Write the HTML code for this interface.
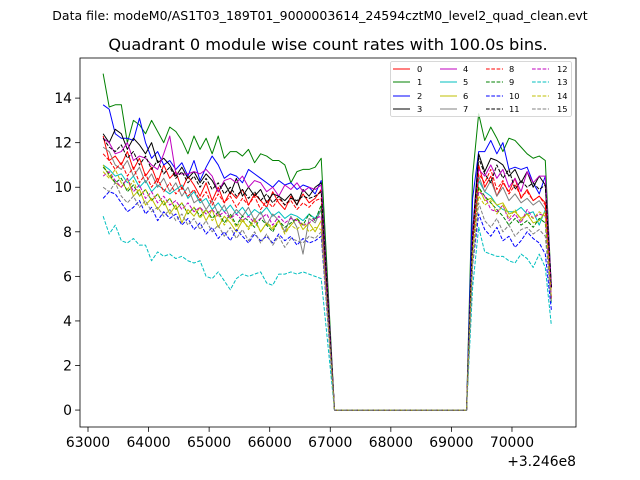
<!DOCTYPE html>
<html><head><meta charset="utf-8"><style>
body{margin:0;background:#fff;}
svg{display:block;font-family:"DejaVu Sans","Liberation Sans",sans-serif;}
</style></head><body>
<svg id="chart" width="640" height="480">
<rect width="640" height="480" fill="#fff"/>
<text x="320" y="20" font-size="12.5" text-anchor="middle">Data file: modeM0/AS1T03_189T01_9000003614_24594cztM0_level2_quad_clean.evt</text>
<text x="328" y="50" font-size="16.2" text-anchor="middle">Quadrant 0 module wise count rates with 100.0s bins.</text>
<g id="series"></g>
<g id="axes"></g>
<g id="legend"></g>
</svg>
<script>
const times=[63250,63350,63450,63550,63650,63750,63850,63950,64050,64150,64250,64350,64450,64550,64650,64750,64850,64950,65050,65150,65250,65350,65450,65550,65650,65750,65850,65950,66050,66150,66250,66350,66450,66550,66650,66750,66850,67070,69250,69350,69450,69550,69650,69750,69850,69950,70050,70150,70250,70350,70450,70550,70650];
const xTicks=[63000,64000,65000,66000,67000,68000,69000,70000];
const yTicks=[0,2,4,6,8,10,12,14];
const moduleNames=["0","1","2","3","4","5","6","7","8","9","10","11","12","13","14","15"];
const m0=[12.3,11.2,11.4,11.0,11.6,10.8,11.3,10.5,10.9,10.2,11.0,10.4,10.7,9.9,10.5,10.1,9.6,10.2,9.4,10.0,9.3,9.8,9.5,9.9,9.2,9.7,9.4,9.1,9.8,9.3,9.0,9.6,9.2,9.7,9.3,9.5,9.9,0,0,7.5,11.0,10.0,10.5,9.6,10.2,9.8,10.4,9.5,9.9,9.4,9.6,9.3,5.0];
const m1=[15.1,13.6,13.7,13.7,12.0,13.0,12.8,12.4,13.0,12.5,12.0,12.7,12.5,12.1,11.5,12.3,11.7,12.2,11.5,12.3,11.3,11.6,11.6,11.4,11.7,11.1,11.5,11.4,11.2,11.2,11.0,10.2,10.7,10.8,10.8,10.9,11.3,0,0,10.5,13.3,12.1,12.7,12.2,11.6,12.2,12.1,11.8,11.5,11.3,11.4,11.2,5.5];
const m2=[13.7,13.5,12.4,12.2,12.2,12.1,13.1,12.0,11.3,11.6,11.0,11.2,10.8,11.1,10.5,11.2,10.3,10.9,11.4,11.0,10.4,10.6,10.5,10.2,10.8,10.6,10.4,10.2,10.0,10.3,10.1,10.2,9.9,10.1,10.0,9.7,10.3,0,0,9.5,11.6,11.6,12.1,11.5,12.0,10.8,10.9,10.8,10.9,10.2,9.7,10.5,5.5];
const m3=[12.4,12.0,12.6,12.4,11.7,12.2,11.9,11.5,12.0,11.1,11.3,11.0,10.5,10.9,10.4,10.7,10.2,10.6,10.3,9.8,10.2,9.7,10.4,9.6,10.0,9.6,9.9,9.3,9.7,9.6,9.4,9.7,9.2,9.9,9.6,10.0,10.2,0,0,8.0,11.5,10.7,11.3,11.2,11.0,10.5,10.8,10.2,10.7,10.0,10.5,10.1,5.5];
const m4=[12.2,12.0,11.5,11.6,12.0,11.2,11.4,11.3,11.0,10.8,11.5,12.3,10.6,10.6,10.6,10.7,10.6,10.8,10.5,9.8,10.3,10.4,10.2,10.5,10.0,10.3,10.2,9.8,10.0,9.6,10.1,9.9,10.2,9.8,10.0,9.9,10.1,0,0,8.0,10.8,10.5,11.0,10.4,10.8,10.0,10.4,9.8,10.7,10.2,10.5,10.5,5.5];
const m5=[11.0,10.8,10.5,10.6,10.2,10.5,10.0,10.3,9.8,10.1,9.9,9.7,9.9,10.1,9.5,9.8,9.3,9.5,9.0,9.3,8.9,9.2,8.8,9.1,8.7,9.0,8.8,9.1,8.7,8.9,8.6,8.8,8.7,8.5,8.8,8.6,9.0,0,0,7.5,10.3,9.8,9.6,9.2,9.0,8.9,8.9,9.1,8.8,8.9,8.3,9.0,4.8];
const m6=[11.0,10.5,10.2,10.0,10.4,9.6,9.9,9.2,9.5,9.0,9.4,8.8,9.2,8.4,9.0,8.7,9.1,8.5,9.0,8.2,8.7,8.4,8.0,8.5,8.2,8.6,8.0,8.4,8.1,8.5,8.0,8.3,8.6,8.1,8.4,8.0,8.5,0,0,7.5,10.0,9.4,9.5,9.2,9.3,8.8,8.9,8.6,8.8,8.4,8.5,8.9,5.0];
const m7=[11.8,11.6,11.0,10.8,11.2,10.5,10.9,10.2,10.6,10.0,10.4,9.8,10.2,9.6,10.0,9.3,9.5,9.0,9.4,8.8,9.2,8.6,9.0,8.7,9.1,8.5,8.9,8.3,8.8,8.5,8.0,8.7,8.2,7.0,8.6,8.4,9.0,0,0,7.5,10.5,9.8,10.3,9.6,10.0,9.4,9.7,9.3,9.5,9.2,9.4,9.0,5.0];
const m8=[11.5,11.2,10.8,11.1,10.5,10.9,10.2,10.6,10.0,10.4,9.8,10.2,9.7,10.0,9.6,9.9,9.4,9.8,9.2,9.7,9.3,9.6,9.1,9.5,9.2,9.6,9.0,9.4,9.1,9.5,9.2,9.4,9.0,9.3,9.1,9.4,9.5,0,0,7.5,10.6,10.2,10.8,9.9,10.3,9.7,10.1,9.6,9.8,9.4,9.6,9.2,5.0];
const m9=[10.9,10.6,10.2,10.4,9.8,10.1,9.6,9.9,9.4,9.7,9.2,9.5,9.0,9.3,8.8,9.1,8.7,9.0,8.6,8.9,8.4,8.8,8.3,8.7,8.5,8.2,8.6,8.3,8.0,8.5,8.2,8.4,8.6,8.3,8.8,8.5,9.2,0,0,7.0,10.0,9.6,9.3,9.0,8.7,8.3,8.6,8.3,8.5,8.2,8.6,8.4,4.8];
const m10=[9.5,9.8,9.7,9.3,8.9,9.1,9.4,8.8,9.1,8.5,8.9,8.6,8.8,8.3,8.6,8.1,8.4,7.9,8.2,7.7,8.0,7.6,8.1,7.8,7.5,7.9,7.6,7.8,7.5,7.9,7.6,7.8,7.4,7.7,7.5,7.6,7.8,0,0,6.5,8.8,8.1,7.8,8.2,7.6,7.8,7.3,7.6,8.0,7.7,7.5,7.0,4.5];
const m11=[12.2,11.8,11.6,11.9,11.3,11.6,11.0,11.4,10.8,11.2,10.6,10.9,10.4,10.7,10.2,10.5,10.0,10.4,9.9,10.2,9.7,10.0,9.6,9.9,9.5,9.8,9.4,9.7,9.3,9.6,9.2,9.5,9.4,9.6,9.5,9.6,9.8,0,0,7.8,11.3,10.6,10.2,11.0,10.4,10.8,9.9,10.3,10.0,10.2,9.9,10.1,5.5];
const m12=[10.5,10.7,10.3,10.0,10.4,9.8,10.1,9.5,9.8,9.3,9.6,9.2,9.4,9.0,9.3,8.9,9.1,8.8,9.0,8.7,8.9,8.6,8.8,8.5,8.7,8.4,8.6,8.8,8.3,8.7,8.4,8.6,8.5,8.3,8.4,8.6,8.7,0,0,7.0,9.8,9.6,9.0,8.9,9.2,8.5,8.8,8.4,9.0,8.6,8.8,8.7,5.0];
const m13=[8.7,7.9,8.3,7.6,7.5,7.7,7.4,7.4,6.7,7.1,6.9,7.0,6.8,6.9,6.7,6.6,6.7,6.0,5.9,6.2,5.8,5.4,5.9,6.1,6.0,6.1,6.2,5.7,5.6,6.1,6.1,6.2,6.1,6.2,6.1,6.0,5.9,0,0,5.5,8.2,7.1,7.0,6.9,6.9,6.7,6.6,7.0,6.8,6.4,7.0,6.4,3.8];
const m14=[10.7,10.4,10.8,10.2,9.9,10.3,9.6,9.9,9.4,9.7,9.2,9.5,9.0,9.3,8.8,9.1,8.6,9.0,8.5,8.8,8.3,8.7,8.2,8.6,8.1,8.5,8.0,8.4,8.2,8.5,7.9,8.3,8.1,8.4,8.0,8.2,8.1,0,0,7.0,9.6,9.2,9.4,8.8,9.2,8.6,9.0,8.5,8.8,8.6,8.9,8.7,5.0];
const m15=[10.0,9.8,10.2,9.6,9.3,9.6,9.1,9.4,8.9,9.1,8.7,9.0,8.5,8.8,8.3,8.6,8.1,8.5,8.0,8.3,7.8,8.2,7.7,8.1,7.6,8.0,7.5,7.9,7.4,7.8,7.3,7.7,7.6,7.5,7.8,7.7,8.0,0,0,6.5,9.3,8.5,8.2,8.6,8.0,8.3,7.8,8.1,8.2,7.9,8.1,7.8,4.8];
const seriesValues=[m0,m1,m2,m3,m4,m5,m6,m7,m8,m9,m10,m11,m12,m13,m14,m15];

const NS="http://www.w3.org/2000/svg";
const PL=80,PR=576,PT=58,PB=427;
const XMIN=62868,XMAX=71057,YMIN=-0.76,YMAX=15.8;
function xs(v){return PL+(v-XMIN)/(XMAX-XMIN)*(PR-PL);}
function ys(v){return PB-(v-YMIN)/(YMAX-YMIN)*(PB-PT);}
const colors=["#ff0000","#008000","#0000ff","#000000","#bf00bf","#00bfbf","#bfbf00","#808080"];
function mk(tag,attrs,parent){const e=document.createElementNS(NS,tag);for(const k in attrs)e.setAttribute(k,attrs[k]);parent.appendChild(e);return e;}

const sg=document.getElementById('series');
for(let i=0;i<seriesValues.length;i++){
  const vals=seriesValues[i];
  const pts=vals.map((v,j)=>xs(times[j]).toFixed(2)+","+ys(v).toFixed(2)).join(" ");
  const p=mk('polyline',{points:pts,fill:'none',stroke:colors[i%8],'stroke-width':1,'stroke-linejoin':'round'},sg);
  if(i>=8)p.setAttribute('stroke-dasharray','3.7,1.6');
  
  
}

const ax=document.getElementById('axes');
const frame=mk('rect',{x:PL,y:PT,width:PR-PL,height:PB-PT,fill:'none',stroke:'#000','stroke-width':0.8},ax);


xTicks.forEach(t=>{
  const x=xs(t);
  const tk=mk('line',{x1:x,x2:x,y1:PB,y2:PB+4.9,stroke:'#000','stroke-width':0.8},ax);
  
  
  const lb=mk('text',{x:x,y:PB+20,'font-size':13.9,'text-anchor':'middle'},ax);
  lb.textContent=t;
  
  
});
yTicks.forEach(t=>{
  const y=ys(t);
  const tk=mk('line',{x1:PL-4.9,x2:PL,y1:y,y2:y,stroke:'#000','stroke-width':0.8},ax);
  
  
  const lb=mk('text',{x:PL-8,y:y+5,'font-size':13.9,'text-anchor':'end'},ax);
  lb.textContent=t;
  
  
});
const off=mk('text',{x:576,y:466,'font-size':13.9,'text-anchor':'end'},ax);
off.textContent="+3.246e8";



const lg=document.getElementById('legend');
const box=mk('rect',{x:390.5,y:61.5,width:181,height:55,rx:2,fill:'#fff','fill-opacity':0.8,stroke:'#ccc','stroke-width':0.8},lg);


const colX=[393,440,486,532],labX=[417,463,509,557],rowY=[69,82,96,109];
moduleNames.forEach((n,i)=>{
  const c=Math.floor(i/4),r=i%4;
  const g=mk('g',{},lg);
  
  
  const l=mk('line',{x1:colX[c],x2:colX[c]+17,y1:rowY[r],y2:rowY[r],stroke:colors[i%8],'stroke-width':1},g);
  if(i>=8)l.setAttribute('stroke-dasharray','3.7,1.6');
  const t=mk('text',{x:labX[c],y:rowY[r]+3,'font-size':8.3},g);
  t.textContent=n;
});
</script>
</body></html>
